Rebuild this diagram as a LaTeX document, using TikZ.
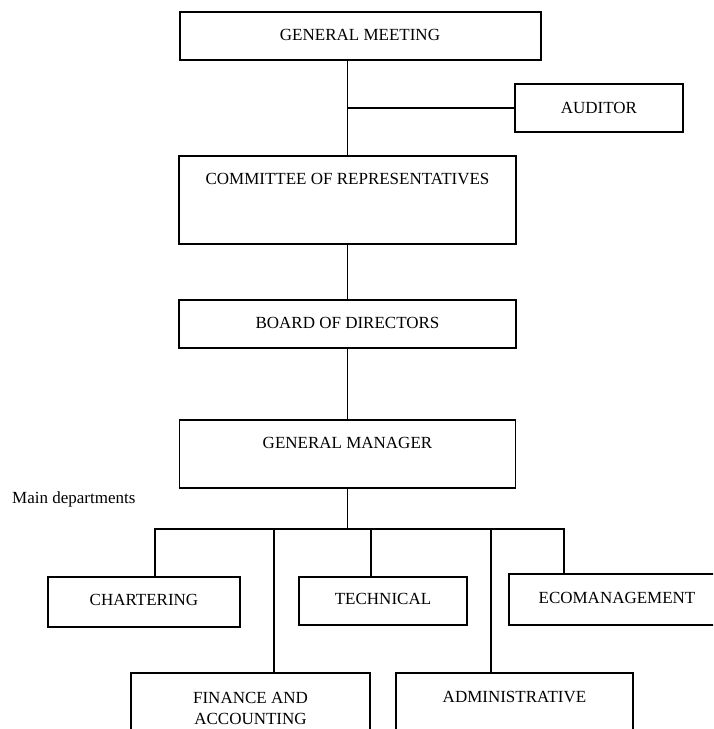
\documentclass[tikz,border=0pt]{standalone}
\usepackage{fontspec}
\setmainfont{Liberation Serif}
\begin{document}
\begin{tikzpicture}[x=1pt,y=-1pt,
  box/.style={draw=black,line width=1.8pt,fill=white,inner sep=0pt,outer sep=0pt},
  lbl/.style={inner sep=0pt,font=\fontsize{17}{21}\selectfont,align=center},
  con/.style={draw=black,line width=1.8pt}]
\useasboundingbox (0,0) rectangle (713,729);
\clip (0,0) rectangle (713,729);
\fill[white] (0,0) rectangle (713,729);
% boxes
\node[box,minimum width=361,minimum height=48] (gm) at (360.5,36) {};
\node[lbl] (gmt) at (360,35) {GENERAL MEETING};
\node[box,minimum width=168,minimum height=48] (aud) at (599,108) {};
\node[lbl] (audt) at (599,108) {AUDITOR};
\node[box,minimum width=337,minimum height=88] (crp) at (347.5,200) {};
\node[lbl] (crpt) at (347.5,179) {COMMITTEE OF REPRESENTATIVES};
\node[box,minimum width=337,minimum height=48] (bod) at (347.5,324) {};
\node[lbl] (bodt) at (347.5,323) {BOARD OF DIRECTORS};
\node[box,minimum width=336,minimum height=68] (gmgr) at (347.5,454) {};
\node[lbl] (gmgrt) at (347.5,443) {GENERAL MANAGER};
\node[lbl,anchor=west] (md) at (12,499) {Main departments};
\node[box,minimum width=192,minimum height=50] (ch) at (144,602) {};
\node[lbl] (cht) at (144,600) {CHARTERING};
\node[box,minimum width=168,minimum height=48] (te) at (383,601) {};
\node[lbl] (tet) at (383,599) {TECHNICAL};
\node[box,minimum width=216,minimum height=51] (eco) at (617,599.5) {};
\node[lbl] (ecot) at (617,598) {ECOMANAGEMENT};
\node[box,minimum width=239,minimum height=72] (fin) at (250.5,709) {};
\node[lbl,anchor=north] (fint) at (250.5,692) {FINANCE AND\\ACCOUNTING};
\node[box,minimum width=237,minimum height=72] (adm) at (514.5,709) {};
\node[lbl] (admt) at (514.5,697) {ADMINISTRATIVE};
% connectors
\draw[con] (crp.north) -- (crp.north |- gm.south);
\coordinate (aj) at (crp.north |- aud.west);
\draw[con] (aj) -- (aud.west);
\draw[con] (crp.south) -- (bod.north);
\draw[con] (bod.south) -- (gmgr.north);
\coordinate (b1) at (155,529);
\coordinate (b2) at (274,529);
\coordinate (b3) at (371,529);
\coordinate (b4) at (491,529);
\coordinate (b5) at (564,529);
\draw[con] (gmgr.south) -- (gmgr.south |- b1);
\draw[con,line cap=rect] (b1) -- (b5);
\draw[con] (b1) -- (b1 |- ch.north);
\draw[con] (b2) -- (b2 |- fin.north);
\draw[con] (b3) -- (b3 |- te.north);
\draw[con] (b4) -- (b4 |- adm.north);
\draw[con] (b5) -- (b5 |- eco.north);
\end{tikzpicture}
\end{document}
